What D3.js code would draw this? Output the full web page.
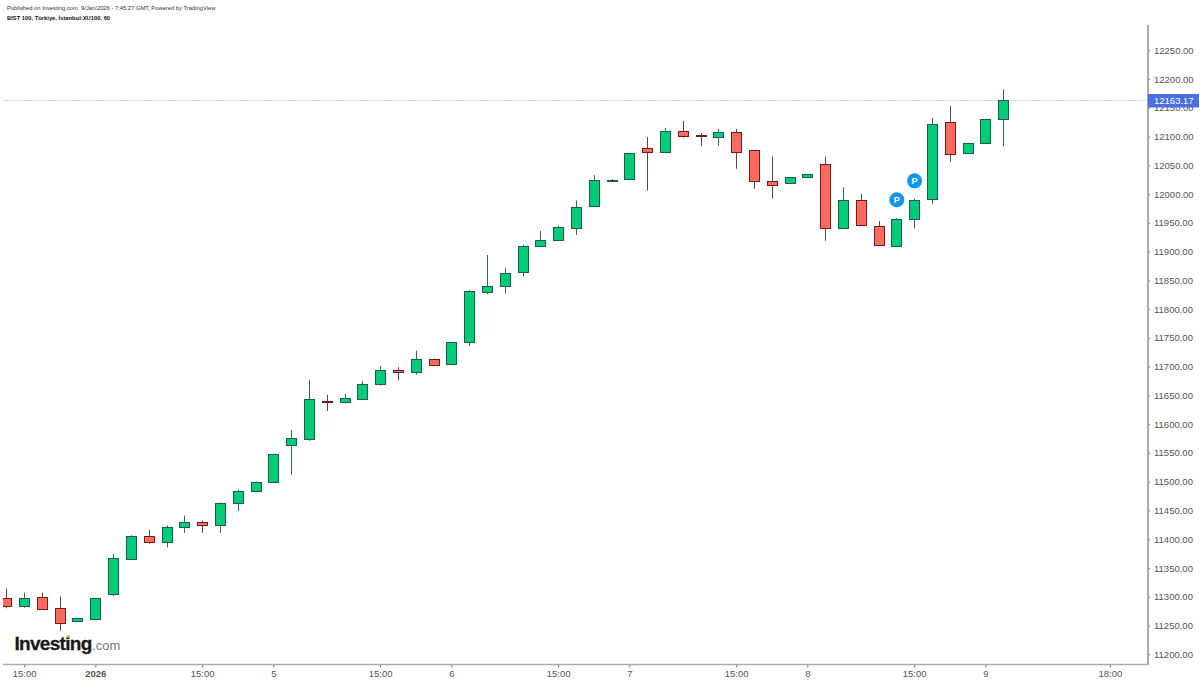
<!DOCTYPE html>
<html>
<head>
<meta charset="utf-8">
<script src="https://cdn.jsdelivr.net/npm/d3@7"></script>
<style>
  html, body { margin: 0; padding: 0; background: #fff; }
  text { font-family: "Liberation Sans", Arial, sans-serif; }
</style>
</head>
<body>
<div id="chart"></div>
<script>
// Hourly candles
var opens = [11298,11283,11300,11281,11257,11262,11304,11366,11405,11395,11422,11430,11425,11464,11484,11499,11564,11573,11641,11638,11644,11669,11694,11690,11714,11703,11744,11830,11841,11863,11909,11920,11941,11979,12024,12025,12080,12073,12110,12102,12100,12108,12076,12022,12019,12029,12052,11941,11989,11945,11910,11957,11991,12126,12071,12088,12130];
var closes = [11284,11297,11280,11255,11263,11298,11367,11406,11395,11421,11430,11425,11463,11484,11500,11548,11576,11643,11639,11645,11670,11694,11691,11713,11703,11742,11832,11840,11863,11909,11920,11942,11978,12025,12025,12071,12073,12110,12102,12100,12108,12073,12022,12015,12029,12035,11941,11989,11946,11912,11957,11990,12121,12071,12088,12130,12163.17];
var highs = [11314,11307,11307,11300,11263,11298,11374,11407,11416,11424,11441,11432,11464,11486,11500,11548,11590,11677,11651,11653,11675,11701,11699,11728,11714,11742,11833,11894,11871,11912,11936,11945,11989,12033,12026,12071,12099,12115,12127,12106,12113,12113,12076,12065,12029,12035,12065,12012,12000,11953,11958,11992,12132,12153,12088,12130,12182];
var lows = [11280,11281,11280,11241,11257,11262,11301,11366,11392,11386,11411,11411,11411,11449,11484,11499,11512,11571,11623,11636,11644,11667,11676,11686,11703,11703,11736,11826,11827,11857,11909,11919,11929,11978,12024,12025,12006,12073,12098,12083,12084,12044,12009,11992,12019,12029,11919,11941,11946,11910,11910,11940,11983,12056,12071,12088,12083];

var priceTicks = [11200,11250,11300,11350,11400,11450,11500,11550,11600,11650,11700,11750,11800,11850,11900,11950,12000,12050,12100,12150,12200,12250];
var timeTickBars = [1,5,11,15,21,25,31,35,41,45,51,55,62];
var timeTickLabels = ["15:00","2026","15:00","5","15:00","6","15:00","7","15:00","8","15:00","9","18:00"];
var lastPrice = 12163.17;
var pivotBars = [50,51];
var pivotPrices = [11990,12023];

var svgWidth = 1200;
var svgHeight = 683;
var axisX = 1148;
var axisY = 664.5;

var svg = d3.select("#chart")
  .append("svg")
  .attr("width", svgWidth)
  .attr("height", svgHeight)
  .style("display", "block");

var x = d3.scaleLinear().domain([0, 56]).range([6.3, 1003.1]);
var y = d3.scaleLinear().domain([11200, 12200]).range([654.3, 79]);

// Header
svg.append("text").attr("x", 7).attr("y", 9.5).attr("font-size", 5.8).attr("fill", "#333")
  .text("Published on Investing.com, 9/Jan/2026 - 7:45:27 GMT, Powered by TradingView");
svg.append("text").attr("x", 7).attr("y", 20).attr("font-size", 5.8).attr("font-weight", "bold").attr("fill", "#111")
  .text("BIST 100, Türkiye, İstanbul:XU100, 60");

// Clip so the first candle is cut like in the chart
svg.append("defs").append("clipPath").attr("id", "pane")
  .append("rect").attr("x", 3).attr("y", 0).attr("width", axisX - 3).attr("height", axisY);

var pane = svg.append("g").attr("clip-path", "url(#pane)");

// Last price line
pane.append("line")
  .attr("x1", 3).attr("x2", axisX)
  .attr("y1", Math.round(y(lastPrice)) + 0.5).attr("y2", Math.round(y(lastPrice)) + 0.5)
  .attr("stroke", "#c3d1fb").attr("stroke-width", 1).attr("stroke-dasharray", "2,1");

var bars = d3.range(opens.length);

// Wicks
pane.selectAll(".wick").data(bars).enter().append("line")
  .attr("class", "wick")
  .attr("x1", d => Math.round(x(d)) + 0.5).attr("x2", d => Math.round(x(d)) + 0.5)
  .attr("y1", d => y(highs[d])).attr("y2", d => y(lows[d]))
  .attr("stroke", d => closes[d] >= opens[d] ? "#3a6660" : "#5e4444");

// Bodies
pane.selectAll(".body").data(bars).enter().append("rect")
  .attr("class", "body")
  .attr("x", d => Math.round(x(d)) - 4.5)
  .attr("width", 10)
  .attr("y", d => Math.round(y(Math.max(opens[d], closes[d]))) + 0.5)
  .attr("height", d => Math.max(1, Math.round(Math.abs(y(opens[d]) - y(closes[d])))))
  .attr("fill", d => closes[d] >= opens[d] ? "#00cc78" : "#ff6a5f")
  .attr("stroke", d => closes[d] >= opens[d] ? "#1d5c50" : "#6e1c1c")
  .attr("stroke-width", 1);

// Pivot markers
var pivots = pane.selectAll(".pivot").data(pivotBars).enter().append("g")
  .attr("class", "pivot")
  .attr("transform", (d, i) => `translate(${x(d) + 0.5}, ${y(pivotPrices[i])})`);
pivots.append("circle").attr("r", 7.5).attr("fill", "#1296f3");
pivots.append("text").attr("text-anchor", "middle").attr("y", 3.3)
  .attr("font-size", 9).attr("font-weight", "bold").attr("fill", "#fff").text("P");

// Price axis
var yAxis = d3.axisRight(y).tickValues(priceTicks).tickFormat(d3.format(".2f")).tickSize(2).tickPadding(4);
var yGroup = svg.append("g").attr("transform", `translate(${axisX}, 0)`).call(yAxis);
yGroup.select(".domain").remove();
yGroup.selectAll("line").attr("stroke", "#777");
yGroup.selectAll("text").attr("font-size", 9.5).attr("fill", "#555").attr("font-family", "Liberation Sans");
svg.append("line").attr("x1", axisX).attr("x2", axisX).attr("y1", 25).attr("y2", axisY + 0.5)
  .attr("stroke", "#aaa").attr("stroke-width", 2);

// Time axis
var xAxis = d3.axisBottom(x).tickValues(timeTickBars).tickFormat((d, i) => timeTickLabels[i]).tickSize(3).tickPadding(3);
var xGroup = svg.append("g").attr("transform", `translate(0, ${axisY})`).call(xAxis);
xGroup.select(".domain").remove();
xGroup.selectAll("line").attr("stroke", "#777");
xGroup.selectAll("text").attr("font-size", 9.5).attr("fill", "#555").attr("font-family", "Liberation Sans")
  .attr("font-weight", (d, i) => timeTickLabels[i] === "2026" ? "bold" : "normal");
svg.append("line").attr("x1", 3).attr("x2", axisX).attr("y1", axisY).attr("y2", axisY)
  .attr("stroke", "#aaa").attr("stroke-width", 1.5);

// Last price tag
svg.append("rect").attr("x", axisX).attr("y", 94).attr("width", 51).attr("height", 13.5).attr("fill", "#4a6fe3");
svg.append("text").attr("x", axisX + 6).attr("y", y(lastPrice) + 3.6)
  .attr("font-size", 9.5).attr("fill", "#fff").text(d3.format(".2f")(lastPrice));

// Logo
var logo = svg.append("text").attr("x", 14.5).attr("y", 650);
logo.append("tspan").attr("font-size", 19).attr("font-weight", "bold").attr("letter-spacing", -0.7)
  .attr("fill", "#1a1a1a").attr("stroke", "#1a1a1a").attr("stroke-width", 0.3).text("Investing");
logo.append("tspan").attr("font-size", 13).attr("fill", "#777").attr("dx", 0.5).text(".com");
svg.append("circle").attr("cx", 68.5).attr("cy", 636.5).attr("r", 1.6).attr("fill", "#f5a623");
</script>
</body>
</html>
